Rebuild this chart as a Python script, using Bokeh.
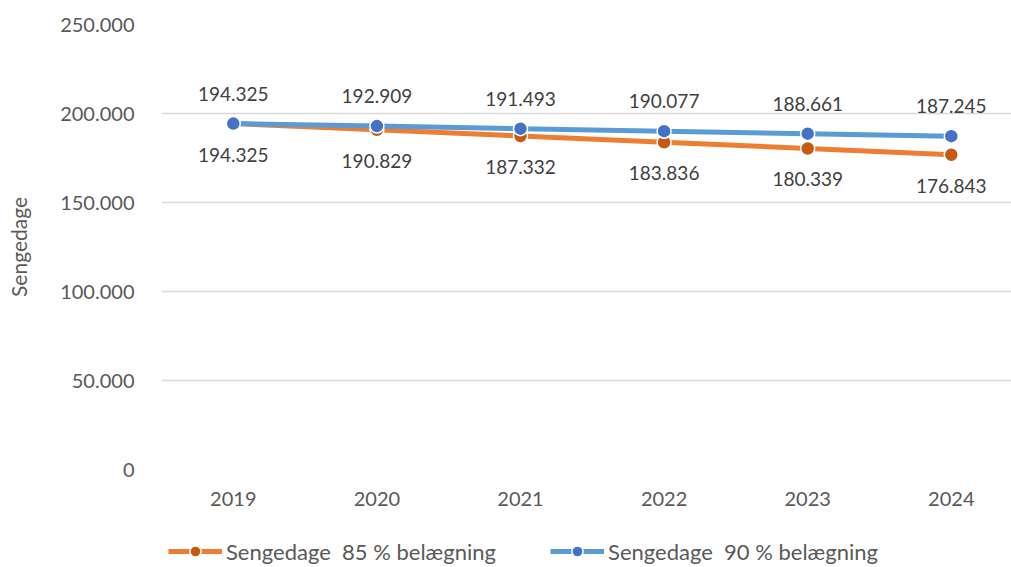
from bokeh.plotting import figure
from bokeh.layouts import column
from bokeh.models import ColumnDataSource, Range1d, Legend, LegendItem, FixedTicker
from bokeh.core.properties import value
from bokeh.embed import file_html
from bokeh.resources import INLINE

years = ["2019", "2020", "2021", "2022", "2023", "2024"]
beds_85 = [194325, 190829, 187332, 183836, 180339, 176843]
beds_90 = [194325, 192909, 191493, 190077, 188661, 187245]
y_ticks = [0, 50000, 100000, 150000, 200000, 250000]
y_tick_labels = ["0", "50.000", "100.000", "150.000", "200.000", "250.000"]
series_names = ["Sengedage  85 % belægning", "Sengedage  90 % belægning"]
y_title = "Sengedage"


def fmt(v):
    return f"{v:,}".replace(",", ".")


xs = list(range(len(years)))
src85 = ColumnDataSource(dict(x=xs, y=beds_85, lbl=[fmt(v) for v in beds_85]))
src90 = ColumnDataSource(dict(x=xs, y=beds_90, lbl=[fmt(v) for v in beds_90]))

FONT = "Lato"
GREY = "#595959"
ORANGE = "#ED7D31"
ORANGE_DK = "#C55A11"
BLUE = "#5B9BD5"
BLUE_DK = "#4472C4"
LINE_W = 5
MARK = 14
LEFT = 161

p = figure(width=1011, height=535, output_backend="svg", toolbar_location=None,
           x_range=Range1d(-0.5, -0.5 + 850 / 143.6), y_range=Range1d(0, 250000),
           min_border_left=LEFT, min_border_right=0, min_border_top=24,
           min_border_bottom=66)
p.outline_line_color = None
p.background_fill_color = "white"
p.border_fill_color = "white"

p.xgrid.grid_line_color = None
p.ygrid.grid_line_color = "#D9D9D9"
p.ygrid.grid_line_width = 1.3

p.yaxis.ticker = FixedTicker(ticks=y_ticks)
p.yaxis.major_label_overrides = dict(zip(y_ticks, y_tick_labels))
p.xaxis.ticker = FixedTicker(ticks=xs)
p.xaxis.major_label_overrides = dict(zip(xs, years))
for ax in (p.xaxis, p.yaxis):
    ax.axis_line_color = None
    ax.major_tick_line_color = None
    ax.minor_tick_line_color = None
    ax.major_label_text_font = FONT
    ax.major_label_text_font_size = "20px"
    ax.major_label_text_color = GREY
p.yaxis.major_label_standoff = 21
p.xaxis.major_label_standoff = 16
p.yaxis.axis_label = y_title
p.yaxis.axis_label_text_font = FONT
p.yaxis.axis_label_text_font_size = "21px"
p.yaxis.axis_label_text_font_style = "normal"
p.yaxis.axis_label_text_color = GREY
p.yaxis.axis_label_standoff = 26

# orange series first, blue drawn on top
p.line("x", "y", source=src85, line_color=ORANGE, line_width=LINE_W)
p.scatter("x", "y", source=src85, size=MARK, fill_color=ORANGE_DK,
          line_color="white", line_width=1.5)
p.line("x", "y", source=src90, line_color=BLUE, line_width=LINE_W)
p.scatter("x", "y", source=src90, size=MARK, fill_color=BLUE_DK,
          line_color="white", line_width=1.5)

p.text("x", "y", text="lbl", source=src85, y_offset=31, text_align="center",
       text_baseline="middle", text_font=value(FONT), text_font_size="19px",
       text_color="#404040")
p.text("x", "y", text="lbl", source=src90, y_offset=-30, text_align="center",
       text_baseline="middle", text_font=value(FONT), text_font_size="19px",
       text_color="#404040")

# legend strip below the chart; its renderers share the series sources but
# its y range keeps them out of view, so only the swatches show
leg = figure(width=1011, height=32, output_backend="svg", toolbar_location=None,
             x_range=Range1d(0, 1), y_range=Range1d(0, 1),
             x_axis_location=None, y_axis_location=None,
             min_border_left=LEFT, min_border_right=0,
             min_border_top=0, min_border_bottom=0)
leg.outline_line_color = None
leg.grid.grid_line_color = None
g85 = [leg.line("x", "y", source=src85, line_color=ORANGE, line_width=LINE_W),
       leg.scatter("x", "y", source=src85, size=MARK, fill_color=ORANGE_DK,
                   line_color="white", line_width=1.5)]
g90 = [leg.line("x", "y", source=src90, line_color=BLUE, line_width=LINE_W),
       leg.scatter("x", "y", source=src90, size=MARK, fill_color=BLUE_DK,
                   line_color="white", line_width=1.5)]
legend = Legend(items=[LegendItem(label=series_names[0], renderers=g85),
                       LegendItem(label=series_names[1], renderers=g90)],
                orientation="horizontal", location="center_left",
                glyph_width=54, glyph_height=28, label_standoff=4, spacing=54,
                padding=0, margin=7, border_line_color=None,
                background_fill_alpha=0,
                label_text_font=FONT, label_text_font_size="22px",
                label_text_color=GREY)
leg.add_layout(legend, "center")

open("out.html", "w").write(file_html(column(p, leg, spacing=0), INLINE))
